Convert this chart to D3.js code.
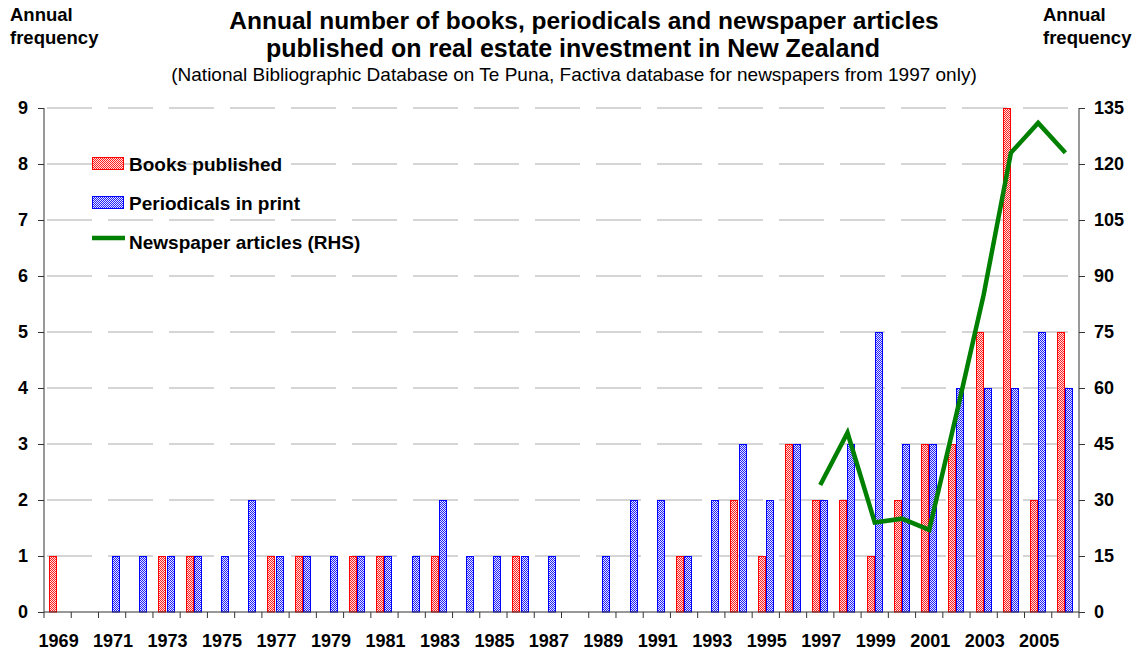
<!DOCTYPE html>
<html lang="en">
<head>
<meta charset="utf-8">
<script src="https://d3js.org/d3.v7.min.js"></script>
<style type="text/css">
body {
	margin: 0;
	background: #fff;
	font-family: Arial, "Liberation Sans", sans-serif;
}
.tick text {
	font-weight: bold;
}
</style>
</head>
<body>
<script type="text/javascript">

// Chart data
var years = d3.range(1969, 2007);
var books = [1,0,0,0,1,1,0,0,1,1,0,1,1,0,1,0,0,1,0,0,0,0,0,1,0,2,1,3,2,2,1,2,3,3,5,9,2,5];
var periodicals = [0,0,1,1,1,1,1,2,1,1,1,1,1,1,2,1,1,1,1,0,1,2,2,1,2,3,2,3,2,3,5,3,3,4,4,4,5,4];
var newsYears = [1997,1998,1999,2000,2001,2002,2003,2004,2005,2006];
var newsArticles = [34,48,24,25,22,53,85,123,131,123];
var leftTicks = [0,1,2,3,4,5,6,7,8,9];
var rightTicks = [0,15,30,45,60,75,90,105,120,135];
var yearLabels = d3.range(1969, 2007, 2);

var width = 1141;
var height = 653;
var margin = {left: 44, right: 62, top: 108, bottom: 41};

var svg = d3.select("body")
			.append("svg")
			.attr("width", width)
			.attr("height", height);

// Checkered fill patterns for the bars
var defs = svg.append("defs");
function checker(id, colour, light) {
  var p = defs.append("pattern")
    .attr("id", id)
    .attr("width", 2)
    .attr("height", 2)
    .attr("patternUnits", "userSpaceOnUse");
  p.append("rect").attr("width", 2).attr("height", 2).attr("fill", light)
   .attr("shape-rendering", "crispEdges");
  p.append("rect").attr("width", 1).attr("height", 1).attr("fill", colour)
   .attr("shape-rendering", "crispEdges");
  p.append("rect").attr("x", 1).attr("y", 1).attr("width", 1).attr("height", 1).attr("fill", colour)
   .attr("shape-rendering", "crispEdges");
}
checker("redPat", "#ff2020", "#ffe0e0");
checker("bluePat", "#2020ff", "#e8e8ff");

var x = d3.scaleBand()
		  .domain(years)
		  .range([margin.left, width - margin.right]);

var xInner = d3.scaleBand()
			   .domain(["books", "periodicals"])
			   .range([x.bandwidth() * 0.2, x.bandwidth() * 0.8]);

var yL = d3.scaleLinear().domain([0, 9]).range([height - margin.bottom, margin.top]);
var yR = d3.scaleLinear().domain([0, 135]).range([height - margin.bottom, margin.top]);

// Dashed gridlines
svg.append("g")
   .selectAll("line")
   .data(leftTicks.slice(1))
   .enter()
   .append("line")
   .attr("x1", margin.left)
   .attr("x2", width - margin.right)
   .attr("y1", function(d) { return yL(d); })
   .attr("y2", function(d) { return yL(d); })
   .style("stroke", "#c8c8c8")
   .style("stroke-width", 1.5)
   .style("stroke-dasharray", "45,16")
   .attr("stroke-dashoffset", -3);

// Bars (positions rounded so the checker pattern lines up with pixels)
function barX(d, key) { return Math.round(x(d) + xInner(key)); }
var bw = Math.round(xInner.bandwidth());

svg.append("g")
   .selectAll("rect")
   .data(years.filter(function(d, i) { return books[i] > 0; }))
   .enter()
   .append("rect")
   .attr("x", function(d) { return barX(d, "books") + 0.5; })
   .attr("y", function(d) { return Math.round(yL(books[years.indexOf(d)])) + 0.5; })
   .attr("width", bw - 1)
   .attr("height", function(d) { return Math.round(yL(0)) - Math.round(yL(books[years.indexOf(d)])) - 0.5; })
   .style("fill", "url(#redPat)")
   .style("stroke", "#ff0000")
   .style("stroke-width", 1);

svg.append("g")
   .selectAll("rect")
   .data(years.filter(function(d, i) { return periodicals[i] > 0; }))
   .enter()
   .append("rect")
   .attr("x", function(d) { return barX(d, "periodicals") + 0.5; })
   .attr("y", function(d) { return Math.round(yL(periodicals[years.indexOf(d)])) + 0.5; })
   .attr("width", bw - 1)
   .attr("height", function(d) { return Math.round(yL(0)) - Math.round(yL(periodicals[years.indexOf(d)])) - 0.5; })
   .style("fill", "url(#bluePat)")
   .style("stroke", "#0000ff")
   .style("stroke-width", 1);

// Newspaper line (right axis)
var line = d3.line()
			 .x(function(d, i) { return x(newsYears[i]) + x.bandwidth() / 2; })
			 .y(function(d) { return yR(d); });

svg.append("path")
   .datum(newsArticles)
   .attr("d", line)
   .style("fill", "none")
   .style("stroke", "#008000")
   .style("stroke-width", 4.5)
   .style("stroke-linejoin", "miter");

// Axes
var axisL = svg.append("g")
   .attr("transform", "translate(" + margin.left + ",0)")
   .call(d3.axisLeft(yL).tickValues(leftTicks).tickSize(6).tickPadding(10).tickFormat(d3.format("d")));

var axisR = svg.append("g")
   .attr("transform", "translate(" + (width - margin.right) + ",0)")
   .call(d3.axisRight(yR).tickValues(rightTicks).tickSize(6).tickPadding(9).tickFormat(d3.format("d")));

[axisL, axisR].forEach(function(a) {
  a.select(".domain").attr("d", function() {
    return "M0," + yL(9) + "V" + yL(0);
  });
  a.selectAll("text").style("font-size", "18px").style("font-family", "Arial, 'Liberation Sans', sans-serif").attr("fill", "#000");
  a.selectAll("line, path").style("stroke", "#333");
});

// Bottom axis with ticks at category boundaries
var xb = svg.append("g").attr("transform", "translate(0," + yL(0) + ")");
xb.append("line")
  .attr("x1", margin.left)
  .attr("x2", width - margin.right)
  .style("stroke", "#333");
xb.selectAll(".bt")
  .data(years.concat([2007]))
  .enter()
  .append("line")
  .attr("class", "bt")
  .attr("x1", function(d) { return d === 2007 ? width - margin.right : x(d); })
  .attr("x2", function(d) { return d === 2007 ? width - margin.right : x(d); })
  .attr("y1", 0)
  .attr("y2", 6)
  .style("stroke", "#333");
xb.selectAll(".yl")
  .data(yearLabels)
  .enter()
  .append("text")
  .attr("x", function(d) { return x(d) + x.bandwidth() / 2 + 1; })
  .attr("y", 35)
  .attr("text-anchor", "middle")
  .style("font-size", "18px")
  .style("font-weight", "bold")
  .text(function(d) { return d; });

// Titles
svg.append("text")
   .attr("x", 584).attr("y", 29)
   .attr("text-anchor", "middle")
   .style("font-size", "24.5px").style("font-weight", "bold")
   .text("Annual number of books, periodicals and newspaper articles");
svg.append("text")
   .attr("x", 573).attr("y", 57)
   .attr("text-anchor", "middle")
   .style("font-size", "25px").style("font-weight", "bold")
   .text("published on real estate investment in New Zealand");
svg.append("text")
   .attr("x", 574).attr("y", 81)
   .attr("text-anchor", "middle")
   .style("font-size", "19px")
   .text("(National Bibliographic Database on Te Puna, Factiva database for newspapers from 1997 only)");

[["Annual", 10, 21], ["frequency", 10, 44], ["Annual", 1043, 21], ["frequency", 1043, 44]].forEach(function(t) {
  svg.append("text")
     .attr("x", t[1]).attr("y", t[2])
     .style("font-size", "18.5px").style("font-weight", "bold")
     .text(t[0]);
});

// Legend
var legendText = ["Books published", "Periodicals in print", "Newspaper articles (RHS)"];
var legend = svg.append("g")
   .selectAll("g")
   .data(legendText)
   .enter()
   .append("g")
   .attr("transform", function(d, i) { return "translate(92," + (164 + i * 39) + ")"; });

legend.filter(function(d, i) { return i < 2; })
   .append("rect")
   .attr("x", 0.5).attr("y", -6.5)
   .attr("width", 31).attr("height", 12)
   .style("fill", function(d, i) { return i === 0 ? "url(#redPat)" : "url(#bluePat)"; })
   .style("stroke", function(d, i) { return i === 0 ? "#ff0000" : "#0000ff"; });

legend.filter(function(d, i) { return i === 2; })
   .append("line")
   .attr("x1", 0).attr("x2", 33)
   .attr("y1", -4).attr("y2", -4)
   .style("stroke", "#008000")
   .style("stroke-width", 4.5);

legend.append("text")
   .attr("x", 37)
   .attr("y", 0)
   .attr("dy", "0.35em")
   .style("font-size", "19px")
   .style("font-weight", "bold")
   .text(function(d) { return d; });

</script>
</body>
</html>
